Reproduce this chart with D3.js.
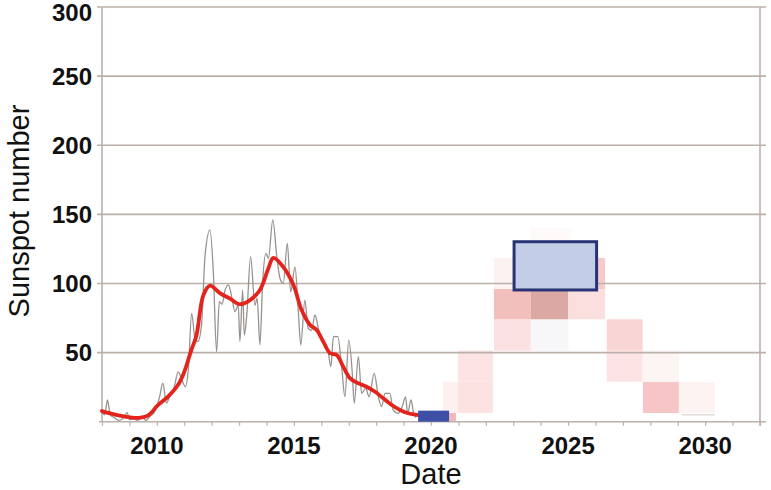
<!DOCTYPE html>
<html>
<head>
<meta charset="utf-8">
<script src="https://cdn.jsdelivr.net/npm/d3@7"></script>
<style>
  body { margin: 0; background: #fff; }
  text { font-family: "Liberation Sans", Arial, sans-serif; }
</style>
</head>
<body>
<div id="chart"></div>
<script>
// monthly sunspot numbers (grey line)
var monthDates = [2008.00, 2008.10, 2008.20, 2008.30, 2008.45, 2008.60, 2008.75, 2008.92, 2009.00, 2009.15,
  2009.30, 2009.45, 2009.60, 2009.75, 2009.88, 2009.98, 2010.10, 2010.22, 2010.35, 2010.50,
  2010.62, 2010.78, 2010.90, 2011.04, 2011.15, 2011.27, 2011.39, 2011.50, 2011.63, 2011.76,
  2011.94, 2012.06, 2012.18, 2012.28, 2012.38, 2012.49, 2012.61, 2012.73, 2012.85, 2012.97,
  2013.03, 2013.13, 2013.19, 2013.28, 2013.42, 2013.58, 2013.66, 2013.76, 2013.86, 2013.98,
  2014.07, 2014.23, 2014.37, 2014.49, 2014.61, 2014.76, 2014.88, 2015.04, 2015.16, 2015.25,
  2015.40, 2015.52, 2015.64, 2015.77, 2015.89, 2016.01, 2016.12, 2016.23, 2016.35, 2016.44,
  2016.60, 2016.74, 2016.86, 2017.00, 2017.13, 2017.20, 2017.35, 2017.47, 2017.62, 2017.74,
  2017.93, 2018.08, 2018.20, 2018.32, 2018.50, 2018.62, 2018.80, 2018.95, 2019.07, 2019.15,
  2019.27, 2019.37, 2019.45];
var monthValues = [7, 5, 15.7, 5, 3, 1, 2, 6.5, 1.5, 2,
  1, 3.5, 1, 4, 6, 9.7, 18, 27.8, 13.5, 20,
  24, 36, 31, 25.3, 38, 78.4, 60.5, 58, 70, 120.6,
  138.7, 108.5, 50.6, 86.8, 85, 95.3, 99, 90.5, 79.6, 84.4,
  58, 95.3, 62.7, 77, 119.4, 84.4, 89.3, 55.5, 101.3, 121.8,
  118.2, 146, 120.6, 103.8, 100, 129, 94, 112, 80, 55.5,
  88, 67.6, 66, 77.2, 67.6, 59, 57, 53, 39.8, 61.5,
  61.5, 39.8, 18.1, 59, 35, 13.3, 47, 20.5, 24.2, 18,
  35, 18, 10.9, 20.5, 20.5, 8.5, 6, 10.9, 18, 6,
  15.7, 6, 3];

// smoothed sunspot numbers (red line)
var smoothDates = [2008.0, 2008.3, 2008.6, 2008.9, 2009.1, 2009.4, 2009.7, 2010.04, 2010.4, 2010.77,
  2011.0, 2011.26, 2011.44, 2011.7, 2011.94, 2012.3, 2012.67, 2013.03, 2013.4, 2013.76,
  2014.07, 2014.25, 2014.61, 2014.98, 2015.28, 2015.59, 2015.83, 2016.07, 2016.32, 2016.56,
  2016.8, 2017.05, 2017.35, 2017.65, 2017.96, 2018.26, 2018.57, 2018.87, 2019.17, 2019.54];
var smoothValues = [7.7, 6, 4.5, 3.5, 2.9, 2.9, 4.8, 12, 18, 26.5,
  36, 52, 62, 91.7, 98.4, 93, 89, 85, 88, 95.3,
  111, 118.5, 112, 99, 80.8, 70, 66.4, 57.9, 49.5, 48.3,
  39.8, 31.4, 27.8, 25.3, 21.7, 16.9, 12.1, 8.5, 6.1, 4.8];

// forecast probability cells: start, end (years), low, high (sunspot number), shade
var cellStart = [2020.44, 2020.98, 2020.98, 2022.30, 2022.30, 2022.30, 2023.64, 2023.64, 2025.01, 2025.01,
  2026.41, 2026.41, 2027.73, 2027.73, 2029.04, 2023.6, 2020.66];
var cellEnd = [2020.98, 2022.26, 2022.26, 2023.64, 2023.64, 2023.64, 2025.01, 2025.01, 2026.35, 2026.35,
  2027.72, 2027.72, 2029.04, 2029.04, 2030.35, 2025.1, 2020.91];
var cellLow = [6.3, 6.3, 28.9, 51.4, 74.1, 96, 51.4, 74.1, 74.1, 96,
  28.9, 51.4, 6.3, 28.9, 6.3, 130, 0];
var cellHigh = [28.9, 28.9, 51.4, 74.1, 96, 118.5, 74.1, 96, 96, 118.5,
  51.4, 74.1, 28.9, 51.4, 28.9, 140, 6.3];
var cellShade = ["#fdf0f0", "#fde2e2", "#fde3e3", "#fbe1e1", "#f2bfbd", "#fdf2f2", "#f7f7fa", "#dba8a3", "#fbdede", "#f5caca",
  "#fde4e4", "#fad5d5", "#f6c5c6", "#fdf4f4", "#fdf3f3", "#fefafa", "#f0b8b8"];

// observed minimum box and predicted maximum box
var minBox = {start: 2019.53, end: 2020.66, low: 0, high: 8};
var maxBox = {start: 2023.03, end: 2026.04, low: 95.3, high: 130.2};

var yTicks = [50, 100, 150, 200, 250, 300];
var xLabels = [2010, 2015, 2020, 2025, 2030];

var width = 771, height = 490;
var margin = {top: 7, right: 11, bottom: 68, left: 102};

var svg = d3.select("#chart")
  .append("svg")
    .attr("width", width)
    .attr("height", height);

var x = d3.scaleLinear()
  .domain([2008, 2032])
  .range([margin.left, width - margin.right]);

var y = d3.scaleLinear()
  .domain([0, 300])
  .range([height - margin.bottom - 0.3, margin.top]);

var gridColor = "#bcb0aa";

// forecast cells go under the grid
svg.append("g")
  .selectAll("rect")
  .data(cellStart.map(function(d, i) { return i; }))
  .enter()
  .append("rect")
    .attr("x", function(i) { return x(cellStart[i]); })
    .attr("width", function(i) { return x(cellEnd[i]) - x(cellStart[i]); })
    .attr("y", function(i) { return y(cellHigh[i]); })
    .attr("height", function(i) { return y(cellLow[i]) - y(cellHigh[i]); })
    .attr("fill", function(i) { return cellShade[i]; });

// faint line near the bottom of the last cell
svg.append("line")
  .attr("x1", x(2029.15)).attr("x2", x(2030.35))
  .attr("y1", y(5)).attr("y2", y(5))
  .attr("stroke", "#e2dcdc")
  .attr("stroke-width", 1.5);

// horizontal grid
svg.append("g")
  .selectAll("line")
  .data(yTicks)
  .enter()
  .append("line")
    .attr("x1", margin.left - 5)
    .attr("x2", width - margin.right + 6)
    .attr("y1", function(d) { return y(d); })
    .attr("y2", function(d) { return y(d); })
    .attr("stroke", gridColor)
    .attr("stroke-width", 1.6);

// frame sides
svg.append("line")
  .attr("x1", x(2008)).attr("x2", x(2008))
  .attr("y1", y(300)).attr("y2", y(0))
  .attr("stroke", gridColor).attr("stroke-width", 1.6);
svg.append("line")
  .attr("x1", x(2032)).attr("x2", x(2032))
  .attr("y1", y(300)).attr("y2", y(0) + 4)
  .attr("stroke", gridColor).attr("stroke-width", 1.6);

// x axis with a tick every year
var xAxis = d3.axisBottom(x)
  .tickValues(d3.range(2008, 2033))
  .tickSize(4)
  .tickFormat("");
var gx = svg.append("g")
  .attr("transform", "translate(0," + y(0) + ")")
  .call(xAxis);
gx.select(".domain")
  .attr("stroke", gridColor)
  .attr("stroke-width", 1.6)
  .attr("d", "M" + (margin.left - 3) + ",0H" + (width - margin.right + 6));
gx.selectAll(".tick line").attr("stroke", gridColor).attr("stroke-width", 1.2);

gx.selectAll(".label")
  .data(xLabels)
  .enter()
  .append("text")
    .attr("x", function(d) { return x(d); })
    .attr("y", 32)
    .attr("text-anchor", "middle")
    .style("font-size", "24px")
    .style("font-weight", "bold")
    .attr("fill", "#111")
    .text(function(d) { return d; });

// y tick labels, the top one pushed down to stay inside
svg.append("g")
  .selectAll("text")
  .data(yTicks)
  .enter()
  .append("text")
    .attr("x", margin.left - 10)
    .attr("y", function(d) { return Math.max(y(d) + 8.5, 21); })
    .attr("text-anchor", "end")
    .style("font-size", "24px")
    .style("font-weight", "bold")
    .attr("fill", "#111")
    .text(function(d) { return d; });

// axis titles
svg.append("text")
  .attr("transform", "translate(29," + 211 + ") rotate(-90)")
  .attr("text-anchor", "middle")
  .style("font-size", "29px")
  .attr("fill", "#111")
  .text("Sunspot number");

svg.append("text")
  .attr("x", x(2020))
  .attr("y", 484)
  .attr("text-anchor", "middle")
  .style("font-size", "29px")
  .attr("fill", "#111")
  .text("Date");

// monthly values
var monthLine = d3.line()
  .x(function(d, i) { return x(monthDates[i]); })
  .y(function(d) { return y(d); })
  .curve(d3.curveMonotoneX);

svg.append("path")
  .datum(monthValues)
  .attr("d", monthLine)
  .attr("fill", "none")
  .attr("stroke", "#98938f")
  .attr("stroke-width", 1.3);

// smoothed values
var smoothLine = d3.line()
  .x(function(d, i) { return x(smoothDates[i]); })
  .y(function(d) { return y(d); })
  .curve(d3.curveCatmullRom);

svg.append("path")
  .datum(smoothValues)
  .attr("d", smoothLine)
  .attr("fill", "none")
  .attr("stroke", "#e3231c")
  .attr("stroke-width", 3.8)
  .attr("stroke-linecap", "round");

// boxes
svg.append("rect")
  .attr("x", x(minBox.start))
  .attr("width", x(minBox.end) - x(minBox.start))
  .attr("y", y(minBox.high))
  .attr("height", y(minBox.low) - y(minBox.high))
  .attr("fill", "#3d50a6");

svg.append("rect")
  .attr("x", x(maxBox.start))
  .attr("width", x(maxBox.end) - x(maxBox.start))
  .attr("y", y(maxBox.high))
  .attr("height", y(maxBox.low) - y(maxBox.high))
  .attr("fill", "#c4cde8")
  .attr("stroke", "#283474")
  .attr("stroke-width", 3);
</script>
</body>
</html>
